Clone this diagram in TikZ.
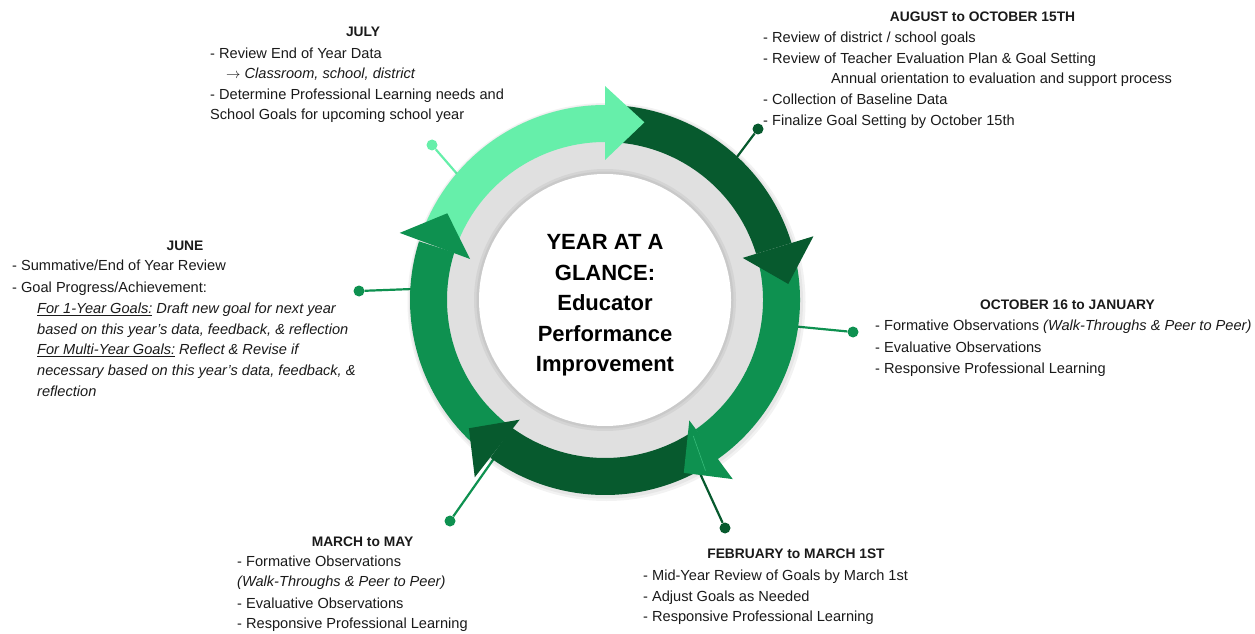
\documentclass[tikz,border=0pt]{standalone}
\usepackage{fontspec}
\setmainfont{Liberation Sans}
\usetikzlibrary{calc}

\definecolor{lightgrn}{HTML}{66EFAA}
\definecolor{darkgrn}{HTML}{075A2E}
\definecolor{midgrn}{HTML}{0E9150}
\definecolor{discgray}{HTML}{E0E0E0}
\definecolor{ink}{HTML}{1A1A1A}

\begin{document}
\begin{tikzpicture}[x=1pt,y=1pt,
    body/.style={anchor=base west,inner sep=0pt,text=ink,font=\fontsize{14.6}{21}\selectfont},
    head/.style={anchor=base,inner sep=0pt,text=ink,font=\bfseries\fontsize{13.8}{16}\selectfont},
    stem/.style={line width=2.2pt},
    dot/.style={circle,fill,inner sep=0pt,minimum size=11pt}]
  \useasboundingbox (0,0) rectangle (1255,633);
  \coordinate (c) at (605,333);

  % leader lines, drawn first so the ring covers their inner ends
  \node[dot,lightgrn] (julydot) at (432,488) {};
  \coordinate (julyend) at ([shift={(140:185)}]c);
  \draw[stem,lightgrn] (julydot) -- (julyend);
  \node[dot,darkgrn] (augdot) at (758,504) {};
  \coordinate (augend) at ([shift={(47:185)}]c);
  \draw[stem,darkgrn] (augdot) -- (augend);
  \node[dot,midgrn] (octdot) at (853,301) {};
  \coordinate (octend) at ([shift={(-8:185)}]c);
  \draw[stem,midgrn] (octdot) -- (octend);
  \node[dot,darkgrn] (febdot) at (725,105) {};
  \coordinate (febend) at ([shift={(-61:185)}]c);
  \draw[stem,darkgrn] (febdot) -- (febend);
  \node[dot,midgrn] (mardot) at (450,112) {};
  \coordinate (marend) at ([shift={(-125:185)}]c);
  \draw[stem,midgrn] (mardot) -- (marend);
  \node[dot,midgrn] (junedot) at (359,342) {};
  \coordinate (juneend) at ([shift={(176.5:185)}]c);
  \draw[stem,midgrn] (junedot) -- (juneend);

  \begin{scope}[shift={(c)}]
    % soft shadow under the ring and the disc
    \fill[black,opacity=0.05] (1.5,-2) circle[radius=199];
    \fill[black,opacity=0.05] (1,-1.5) circle[radius=197];
    \fill[discgray] (0,0) circle[radius=160];
    \fill[black,opacity=0.05] (0,0) circle[radius=131];
    \fill[black,opacity=0.05] (0,0) circle[radius=128.5];
    \fill[white] (0,0) circle[radius=126];

    % ring bands
    \fill[lightgrn] (160:195) arc[start angle=160,end angle=90,radius=195]
      -- (90:158) arc[start angle=90,end angle=160,radius=158] -- cycle;
    \fill[darkgrn] (88:195) arc[start angle=88,end angle=17,radius=195]
      -- (17:158) arc[start angle=17,end angle=88,radius=158] -- cycle;
    \fill[midgrn] (15:195) arc[start angle=15,end angle=-55,radius=195]
      -- (-55:158) arc[start angle=-55,end angle=15,radius=158] -- cycle;
    \fill[darkgrn] (-57:195) arc[start angle=-57,end angle=-126,radius=195]
      -- (-126:158) arc[start angle=-126,end angle=-57,radius=158] -- cycle;
    \fill[midgrn] (-128:195) arc[start angle=-128,end angle=-197.5,radius=195]
      -- (-197.5:158) arc[start angle=-197.5,end angle=-128,radius=158] -- cycle;

    % arrow heads
    \fill[lightgrn] (90:214) -- (77.5:182) -- (90:140) -- cycle;
    \fill[darkgrn] (17:218) -- (5:184) -- (17:144) -- cycle;
    \fill[midgrn] (-54.5:220) -- (-65.5:190) -- (-55:147) -- cycle;
    \draw[lightgrn!45!midgrn,line width=0.6pt] (-57:162) -- (-59.5:198);
    \fill[darkgrn] (-125.5:147) -- (-136.7:187) -- (-126.3:220) -- cycle;
    \fill[midgrn] (161.9:216) -- (151.2:180) -- (163.1:141) -- cycle;
  \end{scope}

  \node[align=center,inner sep=0pt,text=black,
    font=\bfseries\fontsize{22}{30.6}\selectfont] (core) at (605,327.5)
    {YEAR AT A\\GLANCE:\\Educator\\Performance\\Improvement};

  % July
  \node[head] (julyhd) at (363,596) {JULY};
  \node[body] (july1) at (210,574.7) {- Review End of Year Data};
  \node[body] (july2) at (226,554.7) {$\rightarrow$ \textit{Classroom, school, district}};
  \node[body] (july3) at (210,533.5) {- Determine Professional Learning needs and};
  \node[body] (july4) at (210,513) {School Goals for upcoming school year};

  % August to October 15th
  \node[head] (aughd) at (982.5,611) {AUGUST to OCTOBER 15TH};
  \node[body] (aug1) at (763,590) {- Review of district / school goals};
  \node[body] (aug2) at (763,569.5) {- Review of Teacher Evaluation Plan \& Goal Setting};
  \node[body] (aug3) at (831,549) {Annual orientation to evaluation and support process};
  \node[body] (aug4) at (763,528) {- Collection of Baseline Data};
  \node[body] (aug5) at (763,507) {- Finalize Goal Setting by October 15th};

  % June
  \node[head] (junehd) at (185,383) {JUNE};
  \node[body] (june1) at (12,362.3) {- Summative/End of Year Review};
  \node[body] (june2) at (12,340.7) {- Goal Progress/Achievement:};
  \node[body] (june3) at (37,319.7) {\itshape\underline{For 1-Year Goals:} Draft new goal for next year};
  \node[body] (june4) at (37,299) {\itshape based on this year’s data, feedback, \& reflection};
  \node[body] (june5) at (37,278.7) {\itshape\underline{For Multi-Year Goals:} Reflect \& Revise if};
  \node[body] (june6) at (37,257.3) {\itshape necessary based on this year’s data, feedback, \&};
  \node[body] (june7) at (37,237) {\itshape reflection};

  % October 16 to January
  \node[head] (octhd) at (1067.5,324) {OCTOBER 16 to JANUARY};
  \node[body] (oct1) at (875,302.3) {- Formative Observations \textit{(Walk-Throughs \& Peer to Peer)}};
  \node[body] (oct2) at (875,280.7) {- Evaluative Observations};
  \node[body] (oct3) at (875,259.7) {- Responsive Professional Learning};

  % March to May
  \node[head] (marhd) at (362.5,86.3) {MARCH to MAY};
  \node[body] (mar1) at (237,66.3) {- Formative Observations};
  \node[body] (mar2) at (237,46.3) {\itshape (Walk-Throughs \& Peer to Peer)};
  \node[body] (mar3) at (237,24.7) {- Evaluative Observations};
  \node[body] (mar4) at (237,4.7) {- Responsive Professional Learning};

  % February to March 1st
  \node[head] (febhd) at (796,74.7) {FEBRUARY to MARCH 1ST};
  \node[body] (feb1) at (643,53) {- Mid-Year Review of Goals by March 1st};
  \node[body] (feb2) at (643,31.3) {- Adjust Goals as Needed};
  \node[body] (feb3) at (643,11.3) {- Responsive Professional Learning};
\end{tikzpicture}
\end{document}
